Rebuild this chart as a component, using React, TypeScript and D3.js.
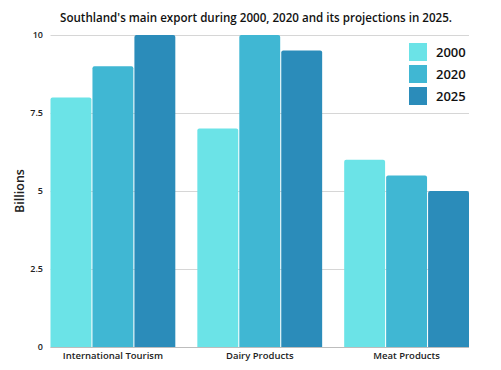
import React, { useRef, useEffect } from 'react';
import * as d3 from 'd3';

const categories = ['International Tourism', 'Dairy Products', 'Meat Products'];
const years = ['2000', '2020', '2025'];
const values2000 = [8, 7, 6];
const values2020 = [9, 10, 5.5];
const values2025 = [10, 9.5, 5];
const yTicks = [0, 2.5, 5, 7.5, 10];
const colors = ['#6be3e7', '#40b7d3', '#2b8cba'];

const App = () => {
  const ref = useRef<SVGSVGElement>(null);

  useEffect(() => {
    const width = 501;
    const height = 370;
    const margin = { top: 35, right: 32, bottom: 23, left: 50.5 };
    const series = [values2000, values2020, values2025];

    const svg = d3.select(ref.current);
    svg.selectAll('*').remove();
    svg.attr('width', width).attr('height', height);

    const font = "'Open Sans', sans-serif";

    const x0 = d3.scaleBand()
      .domain(categories)
      .range([margin.left, width - margin.right])
      .paddingInner(0.15)
      .paddingOuter(0);
    const x1 = d3.scaleBand()
      .domain(years)
      .range([0, x0.bandwidth()])
      .paddingInner(0.025);
    const y = d3.scaleLinear()
      .domain([0, 10])
      .range([height - margin.bottom, margin.top]);

    // gridlines
    svg.append('g')
      .selectAll('line')
      .data(yTicks)
      .join('line')
      .attr('x1', margin.left)
      .attr('x2', width - margin.right)
      .attr('y1', d => Math.round(y(d)) + 0.5)
      .attr('y2', d => Math.round(y(d)) + 0.5)
      .attr('stroke', '#d6d6d6')
      .attr('stroke-width', 1);

    // y tick labels
    svg.append('g')
      .selectAll('text')
      .data(yTicks)
      .join('text')
      .attr('x', 43)
      .attr('y', d => y(d))
      .attr('dy', '0.35em')
      .attr('text-anchor', 'end')
      .attr('font-family', font)
      .attr('font-size', 9)
      .attr('font-weight', 600)
      .attr('fill', '#222')
      .text(d => String(d));

    // bars
    const groups = svg.append('g')
      .selectAll('g')
      .data(categories)
      .join('g')
      .attr('transform', d => `translate(${x0(d)},0)`);

    groups.selectAll('path')
      .data((d, i) => years.map((yr, j) => ({ yr, v: series[j][i], j })))
      .join('path')
      .attr('fill', d => colors[d.j])
      .attr('d', d => {
        const bx = x1(d.yr) as number;
        const bw = x1.bandwidth();
        const top = y(d.v);
        const bottom = y(0);
        const r = 2;
        return `M${bx},${bottom}V${top + r}Q${bx},${top} ${bx + r},${top}H${bx + bw - r}Q${bx + bw},${top} ${bx + bw},${top + r}V${bottom}Z`;
      });

    // baseline
    svg.append('line')
      .attr('x1', margin.left)
      .attr('x2', width - margin.right)
      .attr('y1', y(0) + 0.5)
      .attr('y2', y(0) + 0.5)
      .attr('stroke', '#bdbdbd');

    // x labels
    svg.append('g')
      .selectAll('text')
      .data(categories)
      .join('text')
      .attr('x', d => (x0(d) as number) + x0.bandwidth() / 2)
      .attr('y', 359)
      .attr('text-anchor', 'middle')
      .attr('font-family', font)
      .attr('font-size', 9.5)
      .attr('font-weight', 600)
      .attr('fill', '#222')
      .text(d => d);

    // y axis label
    svg.append('text')
      .attr('transform', `translate(24,${y(5)}) rotate(-90)`)
      .attr('text-anchor', 'middle')
      .attr('font-family', font)
      .attr('font-size', 12.5)
      .attr('font-weight', 600)
      .attr('fill', '#222')
      .text('Billions');

    // title
    svg.append('text')
      .attr('x', 256)
      .attr('y', 22)
      .attr('text-anchor', 'middle')
      .attr('font-family', font)
      .attr('font-size', 11.6)
      .attr('font-weight', 600)
      .attr('fill', '#111')
      .text("Southland's main export during 2000, 2020 and its projections in 2025.");

    // legend
    const legend = svg.append('g');
    years.forEach((yr, i) => {
      legend.append('rect')
        .attr('x', 409)
        .attr('y', 43 + i * 22)
        .attr('width', 18)
        .attr('height', 18)
        .attr('fill', colors[i]);
      legend.append('text')
        .attr('x', 436)
        .attr('y', 52 + i * 22)
        .attr('dy', '0.35em')
        .attr('font-family', font)
        .attr('font-size', 13)
        .attr('font-weight', 600)
        .attr('fill', '#111')
        .text(yr);
    });
  }, []);

  return (
    <div style={{ position: 'absolute', left: 0, top: 0 }}>
      <svg ref={ref}></svg>
    </div>
  );
};

export default App;
